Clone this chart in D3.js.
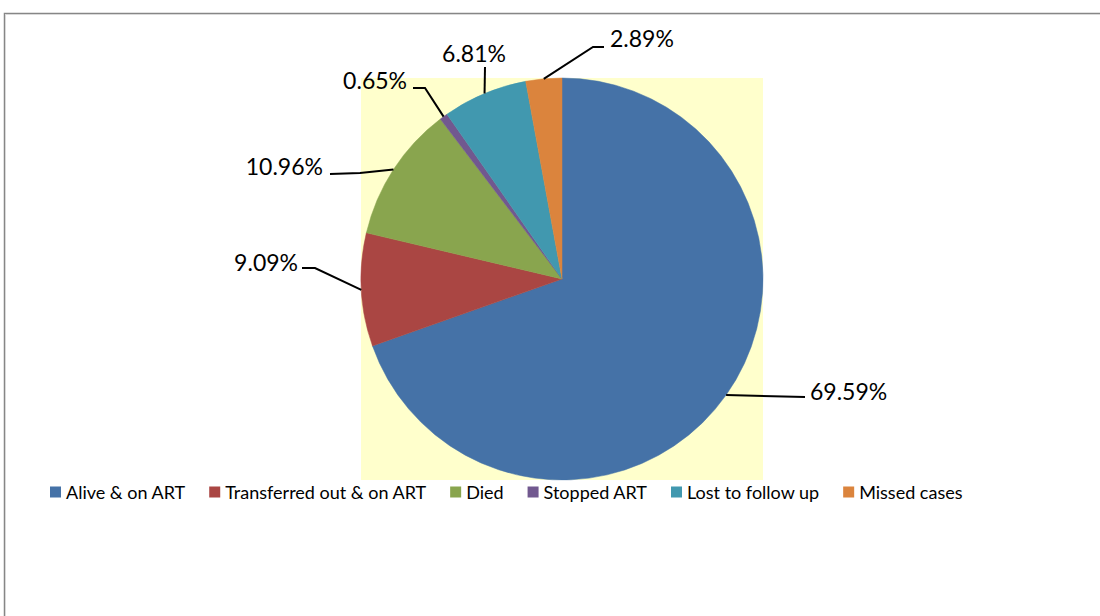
<!DOCTYPE html>
<html><head><meta charset="utf-8">
<script src="https://cdn.jsdelivr.net/npm/d3@7"></script>
<style>body{margin:0;background:#fff}svg{display:block}text{font-family:Lato,"Liberation Sans",sans-serif;fill:#000}</style>
</head><body>
<svg id="c" width="1100" height="616"></svg>
<script>
const categories = ["Alive & on ART","Transferred out & on ART","Died","Stopped ART","Lost to follow up","Missed cases"];
const values = [69.59, 9.09, 10.96, 0.65, 6.81, 2.89];
const labels = ["69.59%","9.09%","10.96%","0.65%","6.81%","2.89%"];
const colors = ["#4572A7","#AA4643","#89A54E","#71588F","#4198AF","#DB843D"];

// label layout (offsets from pie centre): leader bend points, text anchor
const labelLayout = [
  {pts:[[243,118]], text:[248,112], anchor:"start"},
  {pts:[[-247,-11],[-260,-11]], text:[-264,-17], anchor:"end"},
  {pts:[[-202,-106],[-232,-105]], text:[-239,-113], anchor:"end"},
  {pts:[[-137,-191],[-149,-191]], text:[-155,-199], anchor:"end"},
  {pts:[[-77,-212]], text:[-88,-226], anchor:"middle"},
  {pts:[[31,-232],[42,-232]], text:[48,-241], anchor:"start"}
];

const svg = d3.select("#c");
const cx = 562, cy = 279, r = 201;

// chart frame
svg.append("rect").attr("x",4.5).attr("y",13.5).attr("width",1200).attr("height",700)
  .attr("fill","#fff").attr("stroke","#868686").attr("stroke-width",1.5);
svg.append("rect").attr("x",5.5).attr("y",14.5).attr("width",1200).attr("height",700)
  .attr("fill","none").attr("stroke","#d9d9d9").attr("stroke-width",1);

// plot area
svg.append("rect").attr("x",cx-r).attr("y",cy-r).attr("width",2*r).attr("height",2*r).attr("fill","#FFFFCC");

const pie = d3.pie().sort(null).value(d=>d);
const arcs = pie(values);
const arc = d3.arc().innerRadius(0).outerRadius(r);
const g = svg.append("g").attr("transform",`translate(${cx},${cy})`);
g.selectAll("path.slice").data(arcs).join("path").attr("class","slice")
  .attr("d",arc).attr("fill",(d,i)=>colors[i]).attr("stroke",(d,i)=>colors[i]).attr("stroke-width",0.5);

// leader lines and labels
arcs.forEach((d,i)=>{
  const a = (d.startAngle+d.endAngle)/2;
  const start = [r*Math.sin(a), -r*Math.cos(a)];
  const L = labelLayout[i];
  const pts = [start, ...L.pts];
  g.append("path").attr("d", d3.line()(pts)).attr("fill","none").attr("stroke","#000").attr("stroke-width",2);
  g.append("text").attr("x",L.text[0]).attr("y",L.text[1]).attr("text-anchor",L.anchor)
    .attr("dominant-baseline","central").style("font-size","23px").text(labels[i]);
});

// legend
const lg = svg.append("g").attr("transform","translate(50,492)");
let x = 0;
categories.forEach((c,i)=>{
  lg.append("rect").attr("x",x).attr("y",-5.5).attr("width",11).attr("height",11).attr("fill",colors[i]);
  const t = lg.append("text").attr("x",x+16).attr("y",0).attr("dominant-baseline","central")
    .style("font-size","18px").text(c);
  x += 16 + t.node().getComputedTextLength() + 24;
});
</script>
</body></html>
